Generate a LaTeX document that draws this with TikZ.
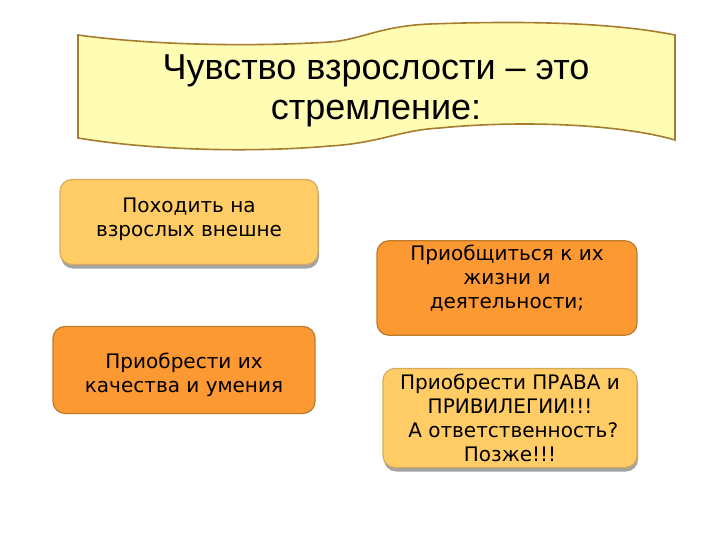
\documentclass[tikz,border=0pt]{standalone}
\usepackage{fontspec}
\setmainfont{DejaVu Sans}
\newfontfamily\titlefont{Liberation Sans}
\usetikzlibrary{shadows}

\definecolor{bannerfill}{RGB}{255,253,180}
\definecolor{bannerline}{RGB}{166,124,46}
\definecolor{lightorange}{RGB}{255,204,102}
\definecolor{darkorange}{RGB}{253,153,51}
\definecolor{boxline}{RGB}{184,124,44}
\definecolor{lightline}{RGB}{214,170,90}

\tikzset{
  wish/.style={rounded corners=12pt, line width=1.2pt, align=center,
    font=\fontsize{20}{24}\selectfont, inner sep=4pt},
  lightwish/.style={wish, fill=lightorange, draw=lightline,
    drop shadow={shadow xshift=1pt, shadow yshift=-4pt, fill=black!45, opacity=.8}},
  darkwish/.style={wish, fill=darkorange, draw=boxline}
}

\begin{document}
\begin{tikzpicture}[x=1pt, y=-1pt]
    \useasboundingbox (0,0) rectangle (720,540);
    % banner
    \draw[fill=bannerfill, draw=bannerline, line width=1.6pt]
        (78,35) .. controls (150,45) and (250,47) .. (330,42)
        .. controls (360,40) and (380,26) .. (430,24)
        .. controls (540,20) and (620,24) .. (675,35)
        -- (675,140)
        .. controls (620,124) and (520,120) .. (440,128)
        .. controls (400,130) and (380,143) .. (330,146)
        .. controls (250,153) and (150,150) .. (78,138) -- cycle;
    \node[align=center, font=\titlefont\fontsize{36}{40}\selectfont] (title) at (376,91)
        {Чувство взрослости – это\\стремление:};

    % wishes
    \node[lightwish, minimum width=258pt, minimum height=85pt, text depth=10pt] (look) at (189,222)
        {Походить на\\взрослых внешне};
    \node[darkwish, minimum width=260pt, minimum height=94pt, text depth=23pt] (life) at (507,288)
        {Приобщиться к их\\жизни и\\деятельности;};
    \node[darkwish, minimum width=262pt, minimum height=87pt, text height=49pt] (skill) at (184,370)
        {Приобрести их\\качества и умения};
    \node[lightwish, minimum width=254pt, minimum height=99pt] (rights) at (510,418)
        {Приобрести ПРАВА и\\ПРИВИЛЕГИИ!!!\\~А ответственность?\\Позже!!!};
\end{tikzpicture}
\end{document}
